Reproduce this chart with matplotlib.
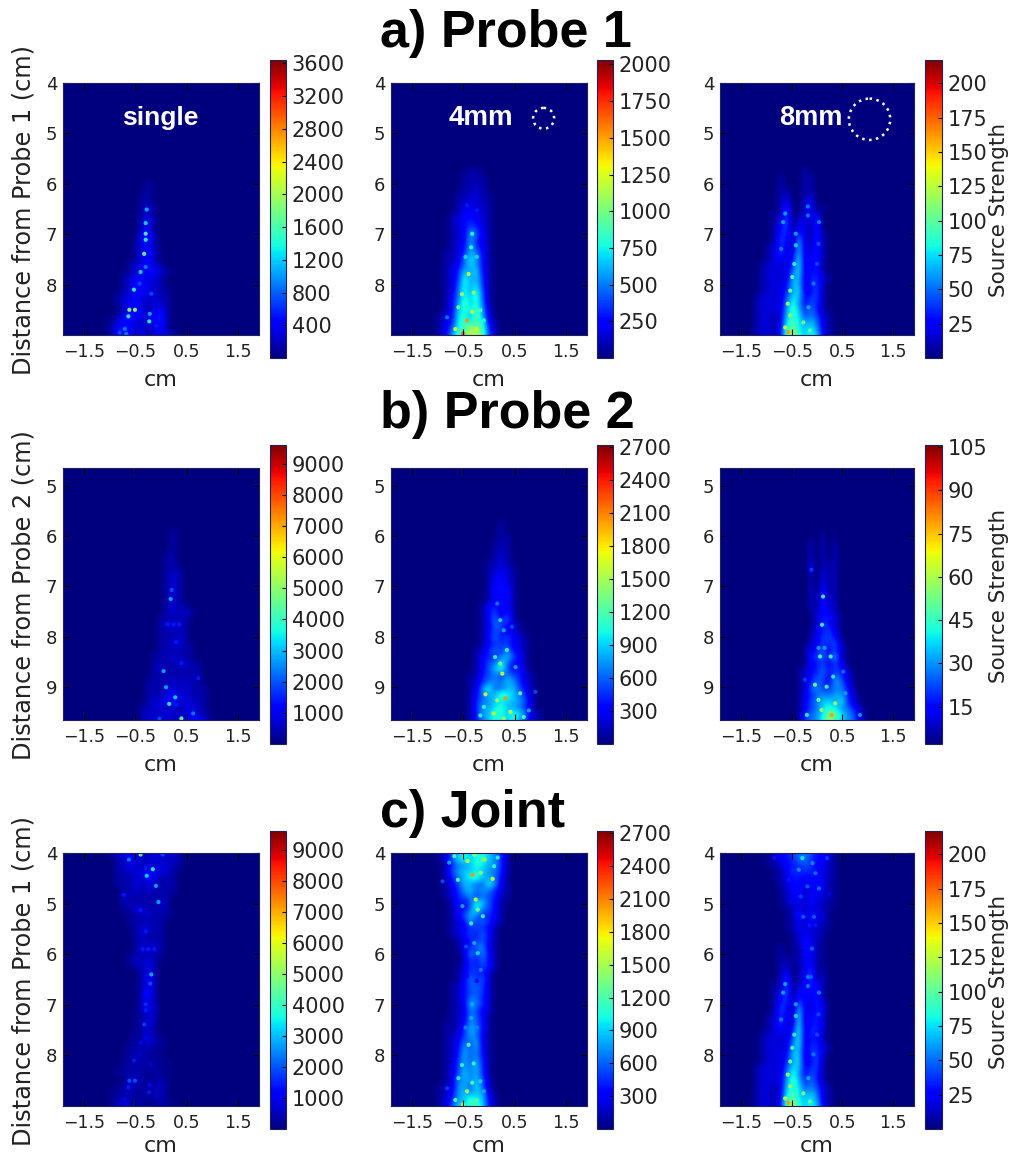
import numpy as np
import matplotlib

matplotlib.use('agg')
import matplotlib.pyplot as plt
from matplotlib.patches import Circle

W, H = 1015, 1158

# Smooth part of the source strength, one hex digit per
# cell, 1 digit = 4% of the colour scale. Rows 0.125 cm deep, columns 0.12 cm wide.
P1_SINGLE = [
    "00000000000000000", "00000000000000000", "00000000001000000",
    "00000000001000000", "00000000011000000", "00000000011000000",
    "00000000012100000", "00000000012000000", "00000000023100000",
    "00000000022000000", "00000000034100000", "00000000134100000",
    "00000000122100000", "00000000134200000", "00000000123100000",
    "00000001233210000", "00000001223321000", "00000012332210000",
    "00000012332210000", "00000012332211000", "00000122322211000",
    "00000123321221000", "00000013421231000", "00000134322341000",
    "00001233122341000", "00001343221231000", "00001433321232100",
]
P1_4MM = [
    "00000000011000000", "00000000111100000", "00000000111100000",
    "00000000112100000", "00000001122110000", "00000001222110000",
    "00000001232210000", "00000012332210000", "00000012343210000",
    "00000012354210000", "00000012285310000", "00000012374210000",
    "00000012384310000", "00000112486310000", "00000112697310000",
    "00000123687310000", "00000124879310000", "00000124a78410000",
    "00000125a79410000", "00000126a7a510000", "00000136a8b510000",
    "00000137b8a610000", "00000138a9b720000", "00001239a7c720000",
    "00001249b9ba31000", "0000135aafcb41000", "0000137bcefb51000",
]
P1_8MM = [
    "00000000001000000", "00000010001100000", "00000010001100000",
    "00000011001100000", "00000012001200000", "00000013002300000",
    "00000015002301000", "00000115012230000", "00000126023140000",
    "00000135032140000", "00000144152141000", "00000153172141000",
    "00001243182241000", "00001252282241000", "00001232392341000",
    "00012222492331000", "00012222692341000", "00012222782442100",
    "00012223882351000", "00012224792351000", "00122225983451000",
    "00122226a73541000", "00122227b84641000", "00122128a95652100",
    "00122129b97862100", "0012213ac98972100", "0012213bfa8a83100",
]
P2_SINGLE = [
    "00000000000000000", "00000000000000000", "00000000100000000",
    "00000000100000000", "00000000100000000", "00000000100000000",
    "00000001100000000", "00000001100000000", "00000001110000000",
    "00000001210000000", "00000001210000000", "00000001210000000",
    "00000001210000000", "00000001210000000", "00000001211000000",
    "00000001212100000", "00000011111000000", "00000012221000000",
    "00000011111000000", "00000011121000000", "00000011221000000",
    "00000011111100000", "00000111211000000", "00000111122110000",
    "00000121111110000", "00000111111120000", "00001111212110000",
    "00001112212111000", "00001112322111000", "00001223322211000",
    "00011221212221000", "00012122212311000", "00012212123242100",
]
P2_4MM = [
    "00000000000000000", "00000000100000000", "00000000100000000",
    "00000000110000000", "00000001110000000", "00000001110000000",
    "00000001210000000", "00000011210000000", "00000012221000000",
    "00000012321000000", "00000013321000000", "00000013431000000",
    "00000014241000000", "00000013331000000", "00000134231000000",
    "00000135241000000", "00000136361000000", "00000126532100000",
    "00000135432100000", "00000136353210000", "00000134543210000",
    "00001246473210000", "00001344685310000", "00001356a63310000",
    "00001358a53410000", "00011456475421000", "00012467687421000",
    "000127a5678531000", "00013678ba8641000", "00014678988752000",
    "00014779a87641000", "0001478aa8a962100", "0001468a98a752100",
]
P2_8MM = [
    "00000101010000000", "00000101010000000", "00000101010000000",
    "00000102010000000", "00000202020000000", "00000202020000000",
    "00000202020000000", "00000302120000000", "00000302120000000",
    "00000203120000000", "00000203120000000", "00000204120000000",
    "00000214120000000", "00000214220000000", "00000214220000000",
    "00000124321000000", "00000124421000000", "00000125421000000",
    "00000134531000000", "00000235541000000", "00001235462100000",
    "00001346352100000", "00001456482100000", "00001345353100000",
    "00012346454210000", "00012456365310000", "00012465386310000",
    "00012675567420000", "00013467687521000", "0001357897a521000",
    "00013569a97642100", "00014679dc9762100", "0001567aeb9763100",
]

# Bright speckles: position in cm, level in 5% of the colour scale
P1_SINGLE_X = [-.28, -.30, -.30, -.30, -.33, -.30, -.40, -.53, -.62, -.51, -.64, -.22, -.23, -.71, -.68, -.42, -.19, -.81, -.09]
P1_SINGLE_Y = [6.51, 6.78, 6.99, 7.11, 7.39, 7.65, 7.75, 8.10, 8.50, 8.50, 8.63, 8.58, 8.73, 8.88, 8.98, 7.98, 8.18, 8.95, 8.81]
P1_SINGLE_L = [6, 7, 9, 8, 10, 5, 7, 8, 11, 11, 8, 6, 8, 5, 5, 4, 4, 4, 3]

P1_4MM_X = [-.43, -.51, -.33, -.40, -.30, -.53, -.66, -.24, -.33, -.35, -.46, -.24, -.60, -.17, -.82, -.10, -.43, -.24]
P1_4MM_Y = [8.71, 8.97, 8.54, 7.79, 8.16, 8.19, 8.88, 8.88, 6.99, 7.26, 7.45, 7.45, 8.45, 8.51, 8.65, 8.71, 6.43, 6.53]
P1_4MM_L = [15, 16, 12, 12, 11, 11, 12, 12, 8, 8, 7, 7, 10, 9, 5, 8, 3, 3]

P1_8MM_X = [-.63, -.67, -.71, -.42, -.42, -.45, -.49, -.53, -.58, -.53, -.57, -.63, -.27, -.18, -.18, .04, .03, 0, -.07, -.17, -.14]
P1_8MM_Y = [6.59, 6.76, 7.29, 7.22, 6.99, 7.59, 7.85, 8.12, 8.38, 8.61, 8.94, 8.85, 8.75, 6.45, 6.63, 6.76, 7.19, 7.59, 7.98, 8.45, 8.91]
P1_8MM_L = [6, 6, 5, 7, 6, 8, 9, 10, 11, 11, 15, 12, 10, 5, 5, 5, 4, 4, 5, 6, 9]

P2_SINGLE_X = [.21, .19, .13, .25, .36, .30, .05, .40, .73, .10, .28, .16, .63, .40, -.03, .30]
P2_SINGLE_Y = [7.07, 7.25, 7.75, 7.75, 7.75, 8.10, 8.68, 8.52, 8.82, 9.00, 9.20, 9.33, 9.52, 9.62, 9.62, 9.35]
P2_SINGLE_L = [4, 6, 3, 3, 3, 3, 6, 3, 3, 6, 7, 8, 5, 10, 4, 3]

P2_4MM_X = [-.07, .32, .09, .26, .22, .42, .22, .29, .16, .45, .16, .61, -.10, -.17, .78, .91, .35, .12, .52, .68, .29]
P2_4MM_Y = [9.14, 9.22, 9.52, 8.73, 8.53, 9.49, 7.67, 7.87, 7.34, 7.80, 9.26, 9.12, 9.39, 9.56, 9.46, 9.09, 8.26, 8.40, 8.60, 9.59, 9.62]
P2_4MM_L = [12, 15, 12, 12, 10, 12, 7, 6, 5, 4, 11, 9, 8, 8, 6, 4, 8, 8, 6, 9, 11]

P2_8MM_X = [.12, .10, .06, .27, -.04, .29, .36, .03, .32, .19, -.20, .85, .03, .15, -.11, -.24, .52, .56, .09]
P2_8MM_Y = [7.20, 7.76, 8.39, 8.39, 8.95, 9.55, 9.32, 9.25, 8.79, 8.99, 9.55, 9.55, 8.22, 8.22, 6.67, 8.85, 8.69, 9.12, 9.45]
P2_8MM_L = [9, 9, 9, 9, 10, 15, 11, 10, 8, 9, 8, 6, 6, 6, 4, 4, 5, 6, 11]

P1_SPOTS = [(P1_SINGLE_X, P1_SINGLE_Y, P1_SINGLE_L), (P1_4MM_X, P1_4MM_Y, P1_4MM_L), (P1_8MM_X, P1_8MM_Y, P1_8MM_L)]
P2_SPOTS = [(P2_SINGLE_X, P2_SINGLE_Y, P2_SINGLE_L), (P2_4MM_X, P2_4MM_Y, P2_4MM_L), (P2_8MM_X, P2_8MM_Y, P2_8MM_L)]

VMAX_P1 = [3640, 2030, 217]
VMAX_P2 = [9600, 2720, 105.7]
VMAX_JOINT = [9600, 2720, 217]
VMIN_P2 = [0, 0, 2]

TICKS_P1 = [range(400, 3601, 400), range(250, 2001, 250), range(25, 201, 25)]
TICKS_P2 = [range(1000, 9001, 1000), range(300, 2701, 300), range(15, 106, 15)]
TICKS_JOINT = [range(1000, 9001, 1000), range(300, 2701, 300), range(25, 201, 25)]

X_TICKS = [-1.5, -0.5, 0.5, 1.5]
COL_LEFT = [63, 391, 720]
COL_RIGHT = [259, 587, 914]
CBAR_LEFT = [270, 597, 925]
CBAR_RIGHT = [286, 613, 942]

TEXT = '#222222'
TITLE_FONT = ['Liberation Sans', 'DejaVu Sans']


def to_grid(rows, vmax, col0, row0):
    grid = np.zeros((41, 33))
    for r, row in enumerate(rows):
        for c, ch in enumerate(row):
            grid[row0 + r, col0 + c] = int(ch, 16) / 25 * vmax
    return grid


def px_axes(fig, left, right, top, bottom):
    return fig.add_axes([left / W, 1 - bottom / H, (right - left) / W, (bottom - top) / H])


def panel(fig, col, top, bottom, cb_top, cb_bottom, data, spots, y_top, yticks, vmin, vmax, cticks):
    ax = px_axes(fig, COL_LEFT[col], COL_RIGHT[col], top, bottom)
    im = ax.imshow(data, cmap='jet', vmin=vmin, vmax=vmax, aspect='auto',
                   interpolation='bicubic',
                   extent=[-1.98, 1.98, y_top + 5.0625, y_top - 0.0625])
    for x, y, v in spots:
        ax.scatter(x, y, c=v, cmap='jet', vmin=vmin, vmax=vmax, s=9, linewidths=0, alpha=0.9)
    ax.set_xlim(-1.92, 1.92)
    ax.set_ylim(y_top + 5, y_top)
    ax.set_xticks(X_TICKS)
    ax.set_xticklabels(['\u22121.5', '\u22120.5', '0.5', '1.5'])
    ax.set_yticks(yticks)
    ax.tick_params(direction='in', length=4, top=True, right=True, color='black')
    ax.tick_params(axis='x', labelsize=12.5, labelcolor=TEXT, pad=6)
    ax.tick_params(axis='y', labelsize=13, labelcolor=TEXT, pad=4)
    ax.set_xlabel('cm', fontsize=16, color=TEXT, labelpad=6)
    for s in ax.spines.values():
        s.set_color('#20205a')
        s.set_linewidth(0.8)

    cax = px_axes(fig, CBAR_LEFT[col], CBAR_RIGHT[col], cb_top, cb_bottom)
    cb = fig.colorbar(im, cax=cax, ticks=list(cticks))
    cb.ax.tick_params(direction='in', length=3, labelsize=15, labelcolor=TEXT, pad=4)
    cb.outline.set_edgecolor('#20205a')
    cb.outline.set_linewidth(0.8)
    return ax


fig = plt.figure(figsize=(W / 100, H / 100), dpi=100)

p1 = [to_grid(r, v, 4, 14) for r, v in zip([P1_SINGLE, P1_4MM, P1_8MM], VMAX_P1)]
p2 = [to_grid(r, v, 10, 8) for r, v in zip([P2_SINGLE, P2_4MM, P2_8MM], VMAX_P2)]
# the joint panels are probe 1 plus probe 2 seen from the opposite side
joint = [a + b[::-1, ::-1] for a, b in zip(p1, p2)]

axes_a, axes_b, axes_c = [], [], []
for i in range(3):
    spots1 = (P1_SPOTS[i][0], P1_SPOTS[i][1], np.array(P1_SPOTS[i][2]) / 20 * VMAX_P1[i])
    spots2 = (P2_SPOTS[i][0], P2_SPOTS[i][1], np.array(P2_SPOTS[i][2]) / 20 * VMAX_P2[i])
    flipped = (-np.array(spots2[0]), 13.65 - np.array(spots2[1]), spots2[2])
    axes_a.append(panel(fig, i, 83, 335, 60, 358, p1[i], [spots1], 4, [4, 5, 6, 7, 8],
                        0, VMAX_P1[i], TICKS_P1[i]))
    axes_b.append(panel(fig, i, 468, 720, 445, 744, p2[i], [spots2], 4.65, [5, 6, 7, 8, 9],
                        VMIN_P2[i], VMAX_P2[i], TICKS_P2[i]))
    axes_c.append(panel(fig, i, 853, 1106, 831, 1129, joint[i], [spots1, flipped], 4, [4, 5, 6, 7, 8],
                        0, VMAX_JOINT[i], TICKS_JOINT[i]))
    axes_c[i].xaxis.labelpad = 3

for ax, label in zip([axes_a[0], axes_b[0], axes_c[0]],
                     ['Distance from Probe 1 (cm)', 'Distance from Probe 2 (cm)',
                      'Distance from Probe 1 (cm)']):
    ax.set_ylabel(label, fontsize=17.3, color=TEXT)
    ax.yaxis.set_label_coords(-27 / 196, 0.496)

for y, title in zip([47, 428, 827], ['a) Probe 1', 'b) Probe 2', 'c) Joint']):
    fig.text(380 / W, 1 - y / H, title, fontsize=37.5, fontweight='bold',
             family=TITLE_FONT, color='black', ha='left', va='baseline')

for y in [210, 596, 982]:
    fig.text(999 / W, 1 - y / H, 'Source Strength', fontsize=15.5, color=TEXT,
             rotation=90, ha='center', va='center')

for ax, label, x, size in zip(axes_a, ['single', '4mm', '8mm'], [-0.02, -0.157, -0.127],
                              [19, 20, 19.5]):
    ax.text(x, 4.7, label, color='white', fontsize=size, fontweight='bold',
            family=TITLE_FONT, ha='center', va='center')

for ax, x, y, r in [(axes_a[1], 1.07, 4.7, 0.206), (axes_a[2], 1.04, 4.72, 0.41)]:
    ax.add_patch(Circle((x, y), r, fill=False, edgecolor='white', linewidth=1.8,
                        linestyle=(0, (1, 1.8))))

plt.savefig('out.png', dpi=100)
